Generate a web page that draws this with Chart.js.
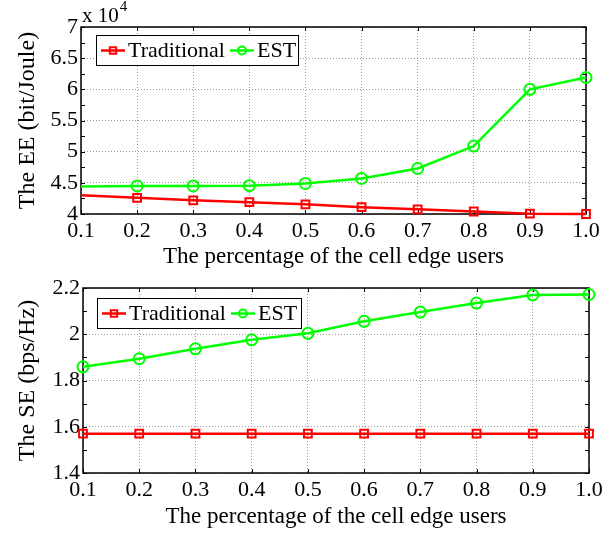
<!DOCTYPE html>
<html>
<head>
<meta charset="utf-8">
<script src="https://cdn.jsdelivr.net/npm/chart.js@4.4.0/dist/chart.umd.min.js"></script>
<style>
  html, body { margin: 0; padding: 0; background: #fff; }
  #wrap { position: relative; width: 616px; height: 533px; }
  canvas { position: absolute; left: 0; }
</style>
</head>
<body>
<div id="wrap">
  <canvas id="eeChart" width="616" height="270" style="top:0"></canvas>
  <canvas id="seChart" width="616" height="263" style="top:270px"></canvas>
</div>
<script>
// ── DATA ──────────────────────────────────────────────────────
const cellEdge      = [0.1, 0.2, 0.3, 0.4, 0.5, 0.6, 0.7, 0.8, 0.9, 1.0];
const xTicks        = [0.1, 0.2, 0.3, 0.4, 0.5, 0.6, 0.7, 0.8, 0.9, 1.0];

const eeTraditional = [43000, 42600, 42200, 41900, 41550, 41100, 40750, 40400, 40050, 40000];
const eeEST         = [44400, 44500, 44500, 44550, 44900, 45700, 47300, 50900, 60000, 61900];
const eeTicks       = [40000, 45000, 50000, 55000, 60000, 65000, 70000];

const seTraditional = [1.57, 1.57, 1.57, 1.57, 1.57, 1.57, 1.57, 1.57, 1.57, 1.57];
const seEST         = [1.859, 1.894, 1.937, 1.976, 2.004, 2.056, 2.096, 2.135, 2.170, 2.172];
const seTicks       = [1.4, 1.6, 1.8, 2.0, 2.2];

const SERIF    = "'Liberation Serif', 'DejaVu Serif', serif";
const RED      = '#ff0000';
const GREEN    = '#00ff00';
const GRID     = '#9a9a9a';
const TICK_LEN = 4;

// ── PLUGINS ───────────────────────────────────────────────────
// box + inward ticks, the way matlab draws its axes
const matlabAxes = {
  id: 'matlabAxes',
  beforeDatasetsDraw(chart) {
    const { ctx, chartArea: a, scales: { x, y } } = chart;
    ctx.save();
    ctx.strokeStyle = '#000';
    ctx.lineWidth = 1;
    ctx.beginPath();
    x.ticks.forEach(t => {
      const px = Math.round(x.getPixelForValue(t.value)) + 0.5;
      ctx.moveTo(px, a.bottom); ctx.lineTo(px, a.bottom - TICK_LEN);
      ctx.moveTo(px, a.top);    ctx.lineTo(px, a.top + TICK_LEN);
    });
    const yv = y.ticks.map(t => t.value);
    const yAll = yv.slice();
    for (let i = 0; i < yv.length - 1; i++) yAll.push((yv[i] + yv[i + 1]) / 2);
    yAll.forEach(v => {
      const py = Math.round(y.getPixelForValue(v)) + 0.5;
      ctx.moveTo(a.left, py);  ctx.lineTo(a.left + TICK_LEN, py);
      ctx.moveTo(a.right, py); ctx.lineTo(a.right - TICK_LEN, py);
    });
    ctx.stroke();
    ctx.lineWidth = 1.5;
    ctx.strokeRect(a.left, a.top, a.right - a.left, a.bottom - a.top);
    ctx.restore();
  },
  afterDraw(chart, args, opts) {
    if (!opts.exponent) return;
    const { ctx, chartArea: a } = chart;
    ctx.save();
    ctx.fillStyle = '#000';
    ctx.textBaseline = 'alphabetic';
    ctx.font = '21px ' + SERIF;
    ctx.fillText('x 10', a.left + 1, a.top - 5);
    const w = ctx.measureText('x 10').width;
    ctx.font = '15px ' + SERIF;
    ctx.fillText(opts.exponent, a.left + 2 + w, a.top - 16);
    ctx.restore();
  }
};

// legend box inside the plot, line sample with the marker on it
const matlabLegend = {
  id: 'matlabLegend',
  afterDraw(chart, args, opts) {
    const { ctx } = chart;
    ctx.save();
    ctx.fillStyle = '#fff';
    ctx.fillRect(opts.x, opts.y, opts.w, opts.h);
    ctx.strokeStyle = '#000';
    ctx.lineWidth = 1;
    ctx.strokeRect(opts.x + 0.5, opts.y + 0.5, opts.w, opts.h);
    ctx.font = '22px ' + SERIF;
    ctx.textBaseline = 'middle';
    const cy = opts.y + opts.h / 2 + 0.5;
    let cx = opts.x + 5;
    chart.data.datasets.forEach(ds => {
      ctx.strokeStyle = ds.borderColor;
      ctx.lineWidth = ds.borderWidth;
      ctx.beginPath();
      ctx.moveTo(cx, cy); ctx.lineTo(cx + 24, cy);
      ctx.stroke();
      ctx.fillStyle = 'rgba(0,0,0,0)';
      ctx.lineWidth = ds.pointBorderWidth;
      Chart.helpers.drawPoint(ctx, {
        pointStyle: ds.pointStyle, radius: ds.pointStyle === 'rect' ? 4.5 : 4,
        rotation: 0, borderWidth: ds.pointBorderWidth
      }, cx + 12, cy);
      ctx.fillStyle = '#000';
      ctx.fillText(ds.label, cx + 27, cy + 1);
      cx += 27 + ctx.measureText(ds.label).width + 5;
    });
    ctx.restore();
  }
};

// ── SHARED OPTIONS ────────────────────────────────────────────
function series(label, data, color, style, hideFirst) {
  return {
    label: label,
    data: cellEdge.map((v, i) => ({ x: v, y: data[i] })),
    borderColor: color,
    borderWidth: 2.5,
    pointStyle: style,
    pointRadius: ctx => (hideFirst && ctx.dataIndex === 0) ? 0 : 5.5,
    pointBorderWidth: 2,
    pointBorderColor: color,
    pointBackgroundColor: 'rgba(0,0,0,0)',
    tension: 0,
    clip: false,
  };
}

function buildOptions(cfg) {
  return {
    responsive: false,
    animation: false,
    events: [],
    layout: { padding: cfg.padding },
    plugins: {
      legend: { display: false },
      tooltip: { enabled: false },
      matlabLegend: cfg.legend,
      matlabAxes: { exponent: cfg.exponent },
    },
    scales: {
      x: {
        type: 'linear',
        min: 0.1, max: 1.0,
        afterBuildTicks: s => { s.ticks = xTicks.map(v => ({ value: v })); },
        afterFit: s => { s.height = cfg.xHeight; },
        grid: { color: GRID, drawTicks: false },
        border: { display: false, dash: [1, 2] },
        ticks: {
          padding: 4, color: '#000', maxRotation: 0, autoSkip: false,
          font: { family: SERIF, size: 22 },
          callback: v => v.toFixed(1)
        },
        title: {
          display: true, text: 'The percentage of the cell edge users', color: '#000',
          font: { family: SERIF, size: 23, lineHeight: 1.1 },
          padding: { top: 0, bottom: cfg.xTitlePad }
        }
      },
      y: {
        type: 'linear',
        min: cfg.yTicks[0], max: cfg.yTicks[cfg.yTicks.length - 1],
        afterBuildTicks: s => { s.ticks = cfg.yTicks.map(v => ({ value: v })); },
        afterFit: s => { s.width = cfg.yWidth; },
        grid: { color: GRID, drawTicks: false },
        border: { display: false, dash: [1, 2] },
        ticks: {
          padding: 3, color: '#000', autoSkip: false,
          font: { family: SERIF, size: 22 },
          callback: cfg.yLabel
        },
        title: {
          display: true, text: cfg.yTitle, color: '#000',
          font: { family: SERIF, size: 24, lineHeight: 1.2 },
          padding: { top: 13, bottom: 0 }
        }
      }
    }
  };
}

// ── EE CHART ──────────────────────────────────────────────────
new Chart(document.getElementById('eeChart'), {
  type: 'line',
  data: {
    datasets: [
      series('Traditional', eeTraditional, RED, 'rect', true),
      series('EST', eeEST, GREEN, 'circle', true),
    ]
  },
  options: buildOptions({
    padding: { left: 0, right: 30, top: 27, bottom: 0 },
    yWidth: 81, xHeight: 56, xTitlePad: 0,
    yTicks: eeTicks,
    yLabel: v => String(v / 10000),
    yTitle: 'The EE (bit/Joule)',
    exponent: '4',
    legend: { x: 96, y: 35, w: 202, h: 30 },
  }),
  plugins: [matlabAxes, matlabLegend]
});

// ── SE CHART ──────────────────────────────────────────────────
new Chart(document.getElementById('seChart'), {
  type: 'line',
  data: {
    datasets: [
      series('Traditional', seTraditional, RED, 'rect', false),
      series('EST', seEST, GREEN, 'circle', false),
    ]
  },
  options: buildOptions({
    padding: { left: 0, right: 27, top: 18, bottom: 0 },
    yWidth: 83, xHeight: 60, xTitlePad: 3,
    yTicks: seTicks,
    yLabel: v => String(v),
    yTitle: 'The SE (bps/Hz)',
    exponent: null,
    legend: { x: 97, y: 28, w: 204, h: 30 },
  }),
  plugins: [matlabAxes, matlabLegend]
});
</script>
</body>
</html>
